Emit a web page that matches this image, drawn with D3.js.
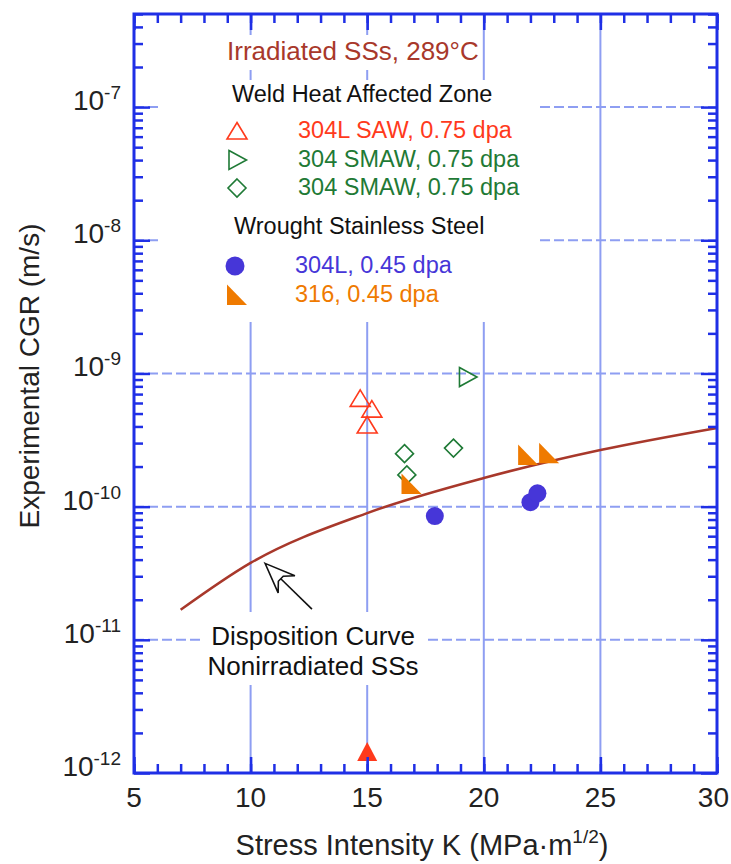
<!DOCTYPE html>
<html>
<head>
<meta charset="utf-8">
<script src="https://cdn.jsdelivr.net/npm/d3@7"></script>
<style>
  body { margin: 0; background: #fff; }
  svg { display: block; font-family: "Liberation Sans", Arial, sans-serif; }
</style>
</head>
<body>
<svg id="chart" width="731" height="864"></svg>
<script>
// ---- data ----
var sawK = [14.7, 15.2, 15.0]
var sawCGR = [6.5e-10, 5.4e-10, 4.1e-10]
var sawBelowK = [15.0]
var sawBelowCGR = [1.45e-12]
var smawTriK = [19.3]
var smawTriCGR = [9.4e-10]
var smawDiaK = [16.6, 16.7, 18.7]
var smawDiaCGR = [2.5e-10, 1.73e-10, 2.75e-10]
var w304K = [17.9, 22.0, 22.3]
var w304CGR = [8.5e-11, 1.08e-10, 1.26e-10]
var w316K = [16.9, 21.9, 22.8]
var w316CGR = [1.48e-10, 2.44e-10, 2.52e-10]
var curveK = [7, 10, 15, 20, 25, 30]
var curveCGR = [1.68e-11, 3.78e-11, 8.95e-11, 1.64e-10, 2.66e-10, 3.9e-10]

var xTicks = [5, 10, 15, 20, 25, 30]
var yExps = [-12, -11, -10, -9, -8, -7]
var legendLabels = ['304L SAW, 0.75 dpa', '304 SMAW, 0.75 dpa', '304 SMAW, 0.75 dpa', '304L, 0.45 dpa', '316, 0.45 dpa']

;(function () {
    'use strict'

    var left = 134, right = 717, top = 14, bottom = 773
    var blue = '#1f2fe6', grid = '#8e9ef2'
    var red = '#ff3a1c', green = '#1f7a36', violet = '#4636d8', orange = '#ef7a00', brown = '#a8382b'

    var svg = d3.select('#chart')
    var x = d3.scaleLinear().domain([5, 30]).range([left, right])
    var y = d3.scaleLog().domain([1e-12, 5e-7]).range([bottom, top])

    var zip = function (a, b) { return a.map(function (v, i) { return [v, b[i]] }) }

    // grid
    var g = svg.append('g')
    g.selectAll('.vg').data([10, 15, 20, 25]).enter().append('line')
        .attr('x1', x).attr('x2', x).attr('y1', top).attr('y2', bottom)
        .attr('stroke', grid).attr('stroke-width', 2)
    g.selectAll('.hg').data([1e-11, 1e-10, 1e-9, 1e-8, 1e-7]).enter().append('line')
        .attr('x1', left).attr('x2', right).attr('y1', y).attr('y2', y)
        .attr('stroke', grid).attr('stroke-width', 2).attr('stroke-dasharray', '10,4')

    // white boxes behind the texts
    var boxes = [[200, 35, 481, 70], [159, 80, 538, 322], [201, 612, 426, 685]]
    svg.selectAll('.box').data(boxes).enter().append('rect')
        .attr('x', function (d) { return d[0] }).attr('y', function (d) { return d[1] })
        .attr('width', function (d) { return d[2] - d[0] }).attr('height', function (d) { return d[3] - d[1] })
        .attr('fill', '#fff')

    // disposition curve
    var line = d3.line()
        .x(function (d) { return x(d[0]) })
        .y(function (d) { return y(d[1]) })
        .curve(d3.curveMonotoneX)
    svg.append('path').datum(zip(curveK, curveCGR))
        .attr('d', line).attr('fill', 'none')
        .attr('stroke', brown).attr('stroke-width', 2.5)

    // marker shapes
    var shapes = {
        triUp: 'M0,-8.5L10,8L-10,8Z',
        triRight: 'M-8,-9.5L9.5,0L-8,9.5Z',
        diamond: 'M0,-9L9,0L0,9L-9,0Z',
        corner: 'M-10,-10.5L-10,10L10,10Z',
        bigTri: 'M0,-9.5L10,9.5L-10,9.5Z'
    }

    function marks(data, shape, fill, stroke) {
        svg.append('g').selectAll('path').data(data).enter().append('path')
            .attr('transform', function (d) { return 'translate(' + x(d[0]) + ',' + y(d[1]) + ')' })
            .attr('d', shapes[shape])
            .attr('fill', fill).attr('stroke', stroke).attr('stroke-width', 1.6)
    }

    marks(zip(sawK, sawCGR), 'triUp', 'none', red)
    marks(zip(sawBelowK, sawBelowCGR), 'bigTri', red, 'none')
    marks(zip(smawTriK, smawTriCGR), 'triRight', 'none', green)
    marks(zip(smawDiaK, smawDiaCGR), 'diamond', 'none', green)
    marks(zip(w316K, w316CGR), 'corner', orange, 'none')
    svg.append('g').selectAll('circle').data(zip(w304K, w304CGR)).enter().append('circle')
        .attr('cx', function (d) { return x(d[0]) }).attr('cy', function (d) { return y(d[1]) })
        .attr('r', 9).attr('fill', violet)

    // frame + ticks on all four sides
    var minorX = d3.range(5, 31)
    var minorY = []
    yExps.forEach(function (e) {
        for (var m = 2; m <= 9; m++) {
            var v = m * Math.pow(10, e)
            if (v <= 5e-7) minorY.push(v)
        }
    })
    var majorY = yExps.map(function (e) { return Math.pow(10, e) })

    function axis(gen, scale, vals, size, tr) {
        var a = svg.append('g').attr('transform', tr)
            .call(gen(scale).tickValues(vals).tickSize(size).tickSizeOuter(0).tickFormat(''))
        a.select('.domain').remove()
        a.selectAll('line').attr('stroke', blue).attr('stroke-width', 2.5)
    }

    axis(d3.axisBottom, x, minorX, -9, 'translate(0,' + bottom + ')')
    axis(d3.axisBottom, x, xTicks, -16, 'translate(0,' + bottom + ')')
    axis(d3.axisTop, x, minorX, -9, 'translate(0,' + top + ')')
    axis(d3.axisTop, x, xTicks, -16, 'translate(0,' + top + ')')
    axis(d3.axisLeft, y, minorY, -9, 'translate(' + left + ',0)')
    axis(d3.axisLeft, y, majorY, -16, 'translate(' + left + ',0)')
    axis(d3.axisRight, y, minorY, -9, 'translate(' + right + ',0)')
    axis(d3.axisRight, y, majorY, -16, 'translate(' + right + ',0)')

    svg.append('rect')
        .attr('x', left).attr('y', top).attr('width', right - left).attr('height', bottom - top)
        .attr('fill', 'none').attr('stroke', blue).attr('stroke-width', 3)

    // tick labels (the last one is pulled in so it stays on the page)
    svg.append('g').selectAll('text').data(xTicks).enter().append('text')
        .attr('x', function (d) { return d === 30 ? 729 : x(d) })
        .attr('y', 807)
        .attr('text-anchor', function (d) { return d === 30 ? 'end' : 'middle' })
        .attr('font-size', 28).attr('fill', '#222')
        .text(function (d) { return d })

    var yl = svg.append('g').selectAll('text').data(yExps).enter().append('text')
        .attr('x', 121).attr('y', function (e) { return y(Math.pow(10, e)) + 3 })
        .attr('text-anchor', 'end').attr('font-size', 28).attr('fill', '#222')
    yl.append('tspan').text('10')
    yl.append('tspan').attr('dy', -11).attr('font-size', 19).text(function (e) { return e })

    // axis titles
    var xt = svg.append('text').attr('x', 422).attr('y', 855).attr('text-anchor', 'middle')
        .attr('font-size', 29).attr('fill', '#222')
    xt.append('tspan').text('Stress Intensity K (MPa\u00b7m')
    xt.append('tspan').attr('dy', -12).attr('font-size', 19).text('1/2')
    xt.append('tspan').attr('dy', 12).text(')')

    svg.append('text')
        .attr('transform', 'translate(39,376) rotate(-90)')
        .attr('text-anchor', 'middle').attr('font-size', 28).attr('fill', '#222')
        .text('Experimental CGR (m/s)')

    // legend
    svg.append('text').attr('x', 227).attr('y', 60).attr('font-size', 26).attr('fill', brown)
        .text('Irradiated SSs, 289\u00b0C')
    svg.append('text').attr('x', 232).attr('y', 102).attr('font-size', 23.5).attr('fill', '#111')
        .text('Weld Heat Affected Zone')
    svg.append('text').attr('x', 234).attr('y', 234).attr('font-size', 23.5).attr('fill', '#111')
        .text('Wrought Stainless Steel')

    var legRows = [
        { y: 131, shape: 'triUp', fill: 'none', stroke: red, color: red },
        { y: 160, shape: 'triRight', fill: 'none', stroke: green, color: green },
        { y: 188, shape: 'diamond', fill: 'none', stroke: green, color: green },
        { y: 266, shape: 'circle', fill: violet, stroke: 'none', color: violet },
        { y: 295, shape: 'corner', fill: orange, stroke: 'none', color: orange }
    ]
    legRows.forEach(function (r, i) {
        if (r.shape === 'circle') {
            svg.append('circle').attr('cx', 235).attr('cy', r.y).attr('r', 9.5).attr('fill', r.fill)
        } else {
            svg.append('path').attr('transform', 'translate(237,' + r.y + ')')
                .attr('d', shapes[r.shape]).attr('fill', r.fill)
                .attr('stroke', r.stroke).attr('stroke-width', 1.6)
        }
        svg.append('text').attr('x', i < 3 ? 298 : 295).attr('y', r.y + 7)
            .attr('font-size', 23.5).attr('fill', r.color)
            .text(legendLabels[i])
    })

    // annotation arrow + text
    var tip = [x(10.62), y(3.75e-11)], tail = [x(12.63), y(1.7e-11)]
    var ang = Math.atan2(tail[1] - tip[1], tail[0] - tip[0]) * 180 / Math.PI
    var len = Math.hypot(tail[0] - tip[0], tail[1] - tip[1])
    var arr = svg.append('g').attr('transform', 'translate(' + tip[0] + ',' + tip[1] + ') rotate(' + ang + ')')
    arr.append('line').attr('x1', 22).attr('x2', len).attr('y1', 0).attr('y2', 0)
        .attr('stroke', '#111').attr('stroke-width', 1.6)
    arr.append('path').attr('d', 'M0,0L30,-12L22,-3.5L22,3.5L30,12Z')
        .attr('fill', '#fff').attr('stroke', '#111').attr('stroke-width', 1.6)

    svg.append('text').attr('x', 313).attr('y', 645).attr('text-anchor', 'middle')
        .attr('font-size', 26).attr('fill', '#111').text('Disposition Curve')
    svg.append('text').attr('x', 313).attr('y', 675).attr('text-anchor', 'middle')
        .attr('font-size', 26).attr('fill', '#111').text('Nonirradiated SSs')
})()
</script>
</body>
</html>
